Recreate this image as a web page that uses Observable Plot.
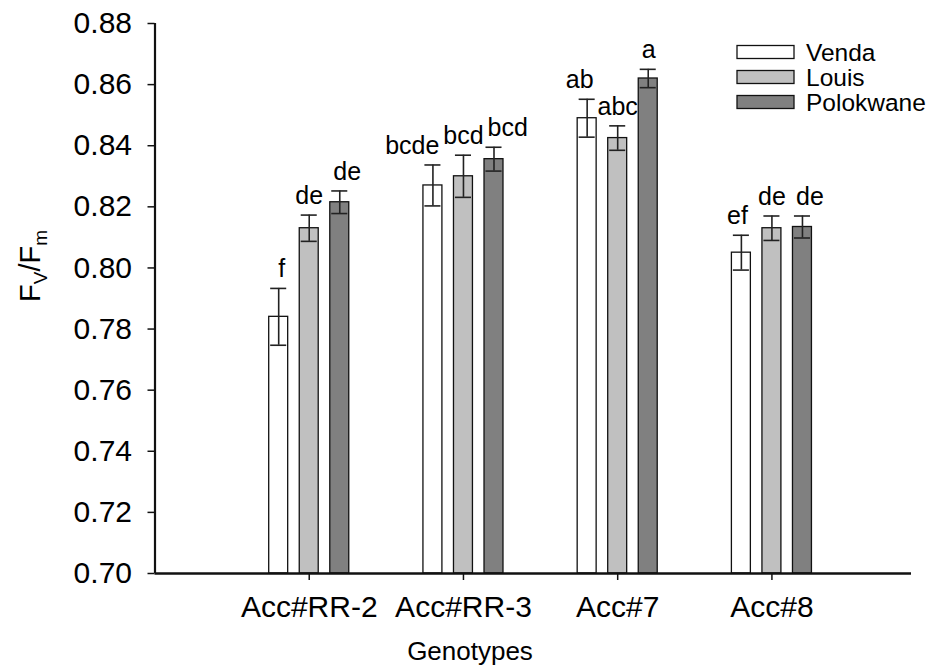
<!DOCTYPE html>
<html>
<head>
<meta charset="utf-8">
<script src="https://cdn.jsdelivr.net/npm/d3@7"></script>
<script src="https://cdn.jsdelivr.net/npm/@observablehq/plot@0.6"></script>
<style>
  html, body { margin: 0; padding: 0; background: #fff; }
  #chart { width: 938px; height: 671px; overflow: hidden; }
  #chart svg { display: block; }
</style>
</head>
<body>
<div id="chart"></div>
<script>
// ---- data ----
const genotypes = ["Acc#RR-2", "Acc#RR-3", "Acc#7", "Acc#8"];
const cultivars = ["Venda", "Louis", "Polokwane"];
const vendaMean = [0.784, 0.827, 0.849, 0.805];
const vendaErr = [0.0093, 0.0067, 0.0062, 0.0057];
const louisMean = [0.813, 0.830, 0.8425, 0.813];
const louisErr = [0.0043, 0.0069, 0.004, 0.004];
const polokwaneMean = [0.8215, 0.8356, 0.862, 0.8134];
const polokwaneErr = [0.0037, 0.0039, 0.003, 0.0036];
const vendaLetters = ["f", "bcde", "ab", "ef"];
const louisLetters = ["de", "bcd", "abc", "de"];
const polokwaneLetters = ["de", "bcd", "a", "de"];
const yTicks = [0.70, 0.72, 0.74, 0.76, 0.78, 0.80, 0.82, 0.84, 0.86, 0.88];

// ---- layout / style ----
const W = 938, H = 671;
const yMin = 0.70, yMax = 0.88;
const xMax = 4.905;
const bw = 0.123, step = 0.198, capHalf = 0.052;
const fills = ["#ffffff", "#c0c0c0", "#808080"];
const font = "'Liberation Sans', Arial, sans-serif";
const axisBottom = 573, axisLeft = 154.5, axisTop = 23, axisRight = 911;

const means = [vendaMean, louisMean, polokwaneMean];
const errs = [vendaErr, louisErr, polokwaneErr];
const letters = [vendaLetters, louisLetters, polokwaneLetters];

const rows = [];
genotypes.forEach((g, gi) => {
  cultivars.forEach((c, ci) => {
    rows.push({
      genotype: g, cultivar: c, ci,
      pos: gi + 1 + (ci - 1) * step,
      mean: means[ci][gi], err: errs[ci][gi], letter: letters[ci][gi]
    });
  });
});

const labelOpts = {y: d => d.mean + d.err, text: "letter", lineAnchor: "bottom", dy: -11, fontSize: 25, fill: "#000"};

const plot = Plot.plot({
  width: W, height: H,
  marginTop: axisTop, marginBottom: H - axisBottom,
  marginLeft: axisLeft, marginRight: W - axisRight,
  style: {fontFamily: font, background: "#fff", color: "#000", overflow: "visible"},
  x: {domain: [0, xMax]},
  y: {domain: [yMin, yMax]},
  color: {domain: cultivars, range: fills},
  marks: [
    Plot.rect(rows, {
      x1: d => d.pos - bw / 2, x2: d => d.pos + bw / 2,
      y1: () => yMin, y2: "mean",
      fill: "cultivar", stroke: "#111", strokeWidth: 1.3
    }),
    Plot.ruleX(rows, {x: "pos", y1: d => d.mean - d.err, y2: d => d.mean + d.err, stroke: "#222", strokeWidth: 1.6}),
    Plot.ruleY(rows, {y: d => d.mean + d.err, x1: d => d.pos - capHalf, x2: d => d.pos + capHalf, stroke: "#222", strokeWidth: 1.6}),
    Plot.ruleY(rows, {y: d => d.mean - d.err, x1: d => d.pos - capHalf, x2: d => d.pos + capHalf, stroke: "#222", strokeWidth: 1.6}),
    Plot.text(rows.filter(d => d.ci === 0), {...labelOpts, x: d => d.pos + bw / 2, dx: -3, textAnchor: "end"}),
    Plot.text(rows.filter(d => d.ci === 1), {...labelOpts, x: "pos", textAnchor: "middle"}),
    Plot.text(rows.filter(d => d.ci === 2), {...labelOpts, x: d => d.pos - bw / 2, dx: 3, textAnchor: "start"}),
    Plot.axisY({ticks: yTicks, tickFormat: d3.format(".2f"), tickSize: 7, tickPadding: 16,
      fontSize: 30, label: null, strokeWidth: 1.5, stroke: "#111"}),
    Plot.axisX({ticks: [1, 2, 3, 4], tickFormat: i => genotypes[i - 1], tickSize: 7, tickPadding: 15,
      fontSize: 30, label: null, strokeWidth: 1.5, stroke: "#111"}),
    Plot.ruleY([yMin], {x1: 0, x2: xMax, stroke: "#111", strokeWidth: 2.3}),
    Plot.ruleX([0], {y1: yMin, y2: yMax, stroke: "#111", strokeWidth: 2.2})
  ]
});

document.getElementById("chart").appendChild(plot);

// ---- annotations: y title, x title, legend ----
const svg = d3.select(plot);
const yt = svg.append("text")
  .attr("transform", `translate(40,266) rotate(-90)`)
  .attr("text-anchor", "middle")
  .attr("font-family", font).attr("font-size", 29).attr("fill", "#000");
yt.append("tspan").text("F");
yt.append("tspan").text("V").attr("font-size", 19).attr("dy", 7);
yt.append("tspan").text("/F").attr("dy", -7);
yt.append("tspan").text("m").attr("font-size", 19).attr("dy", 7);

svg.append("text")
  .attr("x", 470).attr("y", 660)
  .attr("text-anchor", "middle")
  .attr("font-family", font).attr("font-size", 26).attr("fill", "#000")
  .text("Genotypes");

const lg = svg.append("g");
cultivars.forEach((c, i) => {
  const cy = 52 + i * 25;
  lg.append("rect")
    .attr("x", 737).attr("y", cy - 6.5).attr("width", 57).attr("height", 13)
    .attr("fill", fills[i]).attr("stroke", "#111").attr("stroke-width", 1.3);
  lg.append("text")
    .attr("x", 806).attr("y", cy + 8.5)
    .attr("text-anchor", "start")
    .attr("font-family", font).attr("font-size", 24.5).attr("fill", "#000")
    .text(c);
});
</script>
</body>
</html>
